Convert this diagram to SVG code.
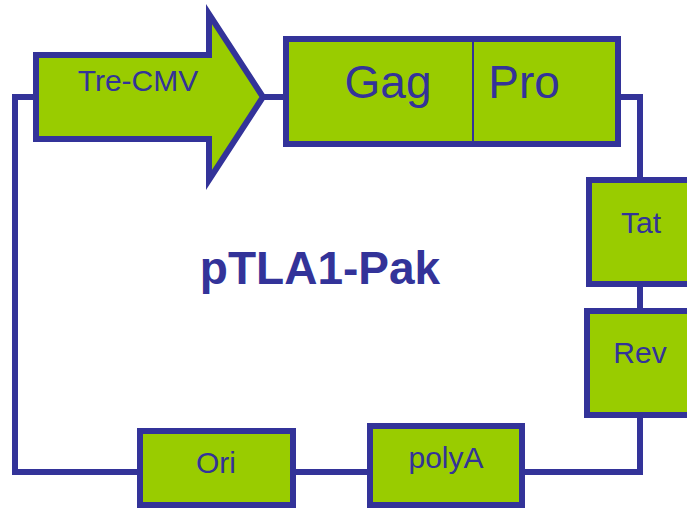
<svg xmlns="http://www.w3.org/2000/svg" width="687" height="510" viewBox="0 0 687 510">
<style>
.box{fill:#99CC00;stroke:#333399;stroke-width:6}
.wire{fill:none;stroke:#333399;stroke-width:6}
.t{font-family:"Liberation Sans",Arial,sans-serif;fill:#333399;text-anchor:middle}
</style>
<rect width="687" height="510" fill="#fff"/>
<g id="connectors">
<polyline class="wire" points="36,97 15,97 15,472 140,472"/>
<line class="wire" x1="262" y1="97" x2="286" y2="97"/>
<polyline class="wire" points="618,97 640,97 640,180"/>
<line class="wire" x1="640" y1="284" x2="640" y2="311"/>
<polyline class="wire" points="640,415 640,472 522,472"/>
<line class="wire" x1="293" y1="472" x2="370" y2="472"/>
</g>
<g id="tre-cmv">
<polygon class="box" points="36,55 209,55 209,14 263,97 209,180 209,139 36,139"/>
<text class="t" x="138" y="91" font-size="30">Tre-CMV</text>
</g>
<g id="gag-pro">
<rect class="box" x="286" y="39" width="332" height="105"/>
<line x1="473" y1="39" x2="473" y2="144" stroke="#333399" stroke-width="2"/>
<text class="t" x="388" y="98" font-size="46">Gag</text>
<text class="t" x="524" y="98" font-size="46">Pro</text>
</g>
<g id="tat">
<rect class="box" x="589" y="180" width="104" height="104"/>
<text class="t" x="641" y="233" font-size="30">Tat</text>
</g>
<g id="rev">
<rect class="box" x="587" y="311" width="106" height="104"/>
<text class="t" x="640" y="363" font-size="30">Rev</text>
</g>
<g id="ori">
<rect class="box" x="140" y="431" width="153" height="74"/>
<text class="t" x="216" y="473" font-size="30">Ori</text>
</g>
<g id="polya">
<rect class="box" x="370" y="426" width="152" height="79"/>
<text class="t" x="446" y="468" font-size="30">polyA</text>
</g>
<g id="title">
<text class="t" x="320" y="284" font-size="46" font-weight="bold">pTLA1-Pak</text>
</g>
</svg>
